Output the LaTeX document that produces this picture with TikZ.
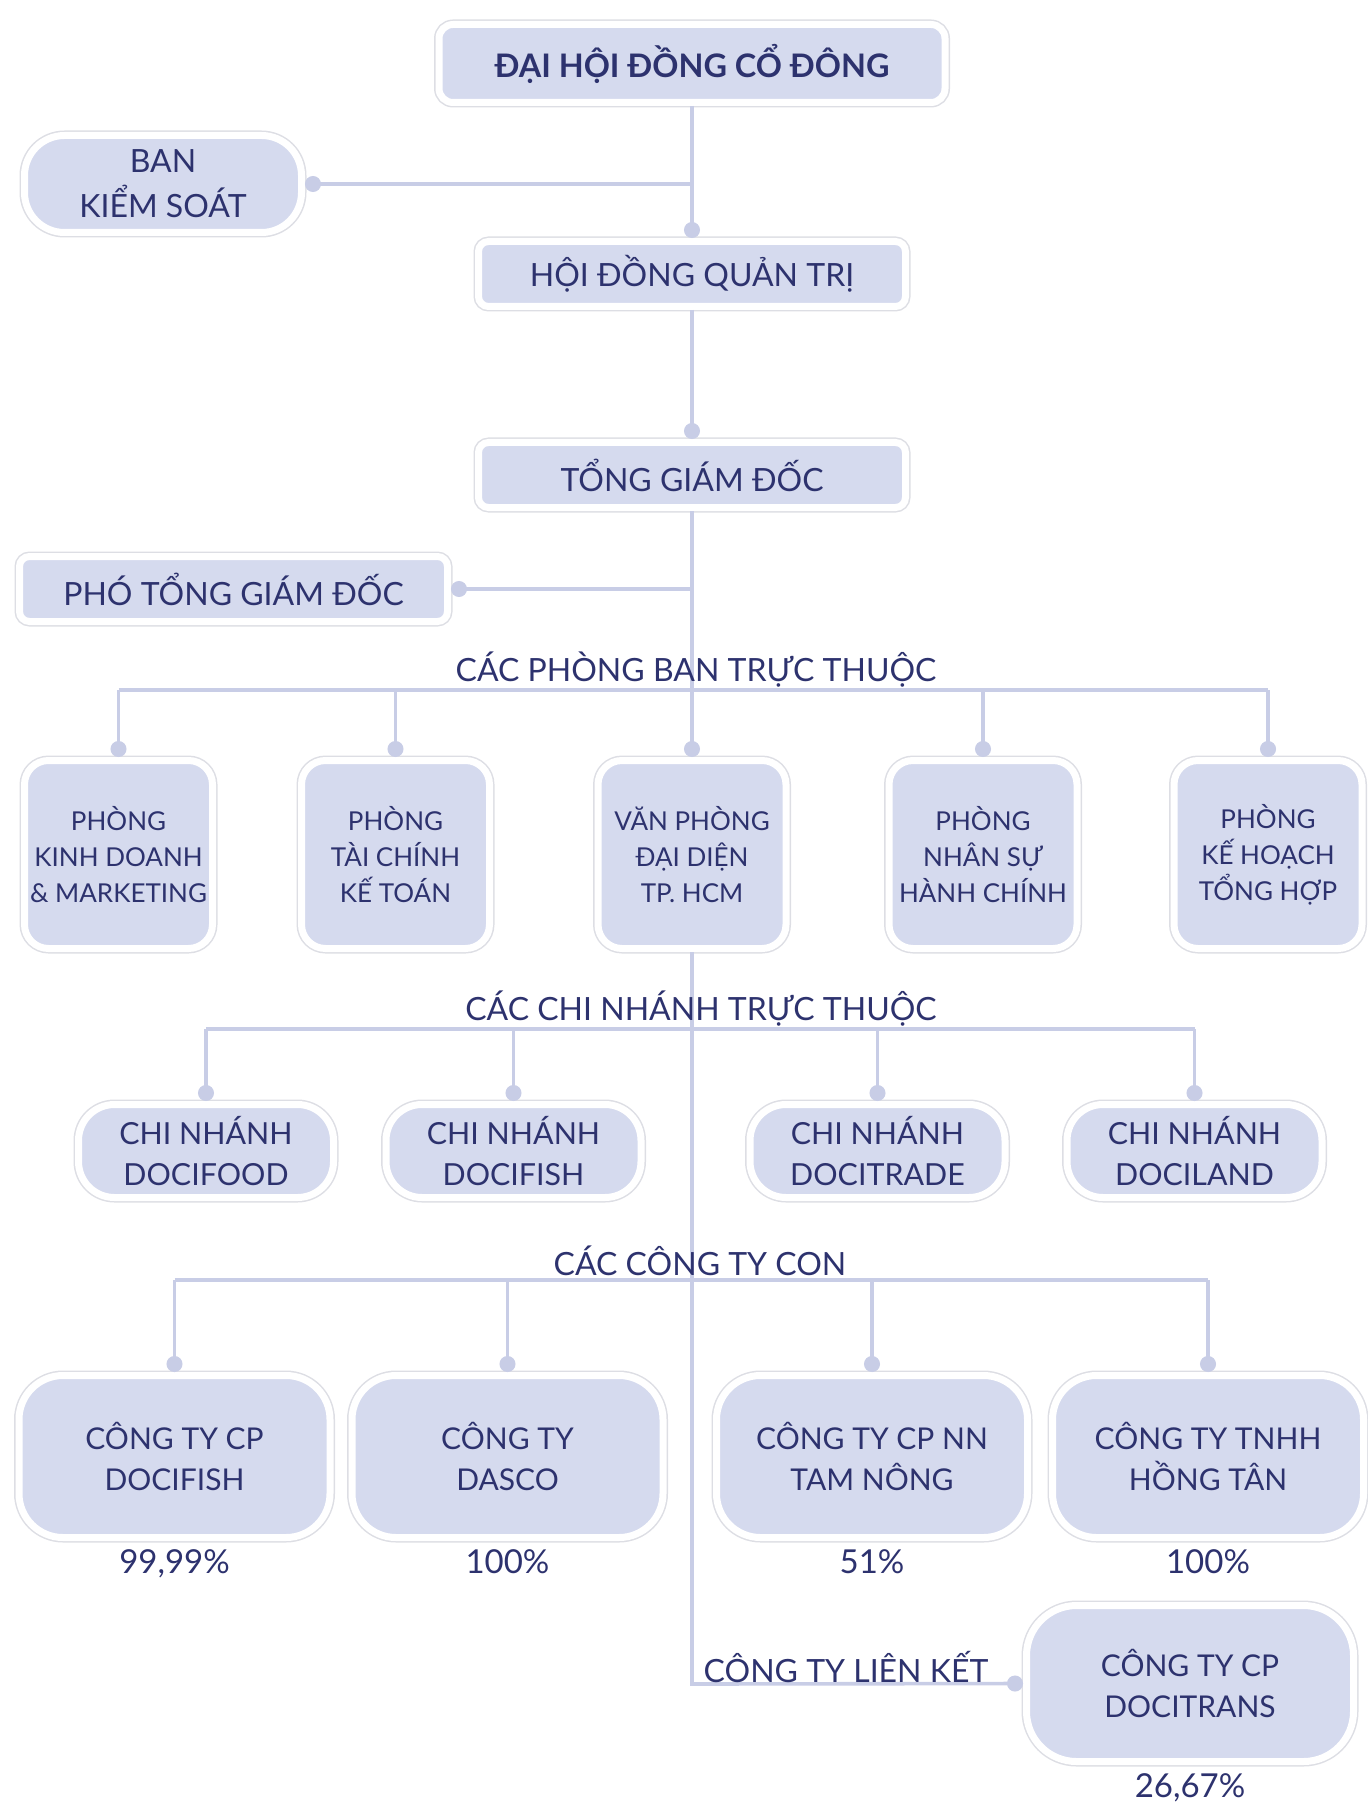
\documentclass[tikz,border=0pt]{standalone}
\usepackage{fontspec}
\setmainfont{Lato}
\usetikzlibrary{arrows.meta, positioning}

\definecolor{boxfill}{HTML}{D5DAEE}
\definecolor{ink}{HTML}{2D326E}
\definecolor{wire}{HTML}{C8CDE6}
\definecolor{ring}{HTML}{DDDEE4}

\begin{document}
\begin{tikzpicture}[
        x=0.5pt, y=-0.5pt,
        box/.style={rectangle, draw=white, line width=3.5pt, fill=boxfill, text=ink, align=center, inner sep=2pt, preaction={draw=ring, line width=5pt}},
        top/.style={box, rounded corners=7pt, minimum width=253pt, minimum height=39pt, font=\fontsize{16.2}{19}\selectfont\bfseries},
        wide/.style={box, rounded corners=5pt, minimum width=213.5pt, minimum height=32.5pt, font=\fontsize{16}{19}\selectfont},
        control/.style={box, rounded corners=20pt, minimum width=138.5pt, minimum height=48.5pt, font=\fontsize{16}{22.5}\selectfont},
        dept/.style={box, rounded corners=12pt, minimum width=94pt, minimum height=94pt, font=\fontsize{13}{18}\selectfont},
        branch/.style={box, rounded corners=18pt, minimum width=127.5pt, minimum height=46.5pt, font=\fontsize{15.2}{20.7}\selectfont},
        firm/.style={box, rounded corners=22pt, minimum width=155.5pt, minimum height=81pt, font=\fontsize{15}{20.7}\selectfont},
        heading/.style={text=ink, inner sep=1pt, font=\fontsize{16}{19}\selectfont},
        share/.style={text=ink, inner sep=1pt, font=\fontsize{16.5}{19}\selectfont},
        link/.style={draw=wire, line width=1.8pt},
        dot/.style={link, -{Circle[length=8pt]}}
    ]
    \useasboundingbox (0,0) rectangle (1367,1802);

    % top of the chart
    \node (dhdcd) [top] at (692,63.5) {ĐẠI HỘI ĐỒNG CỔ ĐÔNG};
    \node (hdqt) [wide, below=66pt of dhdcd] {HỘI ĐỒNG QUẢN TRỊ};
    \node (tgd) [wide, below=64.5pt of hdqt] {TỔNG GIÁM ĐỐC};
    \node (bks) [control] at (163,184) {BAN\\KIỂM SOÁT};
    \node (ptgd) [wide, minimum width=214pt] at (233.5,589) {PHÓ TỔNG GIÁM ĐỐC};

    % departments
    \coordinate (buspb) at (692,690);
    \node (pb1) [dept] at (118.5,854.5) {PHÒNG\\KINH DOANH\\\& MARKETING};
    \node (pb2) [dept] at (395.5,854.5) {PHÒNG\\TÀI CHÍNH\\KẾ TOÁN};
    \node (vp) [dept] at (692,854.5) {VĂN PHÒNG\\ĐẠI DIỆN\\TP. HCM};
    \node (pb4) [dept] at (983,854.5) {PHÒNG\\NHÂN SỰ\\HÀNH CHÍNH};
    \node (pb5) [dept] at (1268,854.5) {PHÒNG\\KẾ HOẠCH\\TỔNG HỢP};

    % branches
    \coordinate (buscn) at (692,1029);
    \node (cn1) [branch] at (206,1151) {CHI NHÁNH\\DOCIFOOD};
    \node (cn2) [branch] at (513.5,1151) {CHI NHÁNH\\DOCIFISH};
    \node (cn3) [branch] at (877.5,1151) {CHI NHÁNH\\DOCITRADE};
    \node (cn4) [branch] at (1194.5,1151) {CHI NHÁNH\\DOCILAND};

    % subsidiaries
    \coordinate (busct) at (692,1280);
    \node (ct1) [firm] at (174.5,1456.5) {CÔNG TY CP\\DOCIFISH};
    \node (ct2) [firm] at (507.5,1456.5) {CÔNG TY\\DASCO};
    \node (ct3) [firm] at (872,1456.5) {CÔNG TY CP NN\\TAM NÔNG};
    \node (ct4) [firm] at (1208,1456.5) {CÔNG TY TNHH\\HỒNG TÂN};
    \node (pc1) [share, below=3pt of ct1] {99,99\%};
    \node (pc2) [share, below=3pt of ct2] {100\%};
    \node (pc3) [share, below=3pt of ct3] {51\%};
    \node (pc4) [share, below=3pt of ct4] {100\%};

    % associate
    \coordinate (elbow) at (692,1684);
    \node (docitrans) [firm, minimum width=163.5pt, minimum height=78pt, rounded corners=25pt] at (1190,1683.5) {CÔNG TY CP\\DOCITRANS};
    \node (pc5) [share, below=3pt of docitrans] {26,67\%};

    \draw [dot] (dhdcd.south) -- (hdqt.north);
    \draw [dot] (dhdcd.south |- bks.east) -- (bks.east);
    \draw [dot] (hdqt.south) -- (tgd.north);
    \draw [dot] (tgd.south |- ptgd.east) -- (ptgd.east);
    \draw [link] (tgd.south) -- (buspb);

    \draw [link] (pb1.north |- buspb) -- (pb5.north |- buspb);
    \foreach \n in {pb1,pb2,vp,pb4,pb5}
        \draw [dot] (\n.north |- buspb) -- (\n.north);

    \draw [dot] (vp.south) -- (elbow) -- (docitrans.west);

    \draw [link] (cn1.north |- buscn) -- (cn4.north |- buscn);
    \foreach \n in {cn1,cn2,cn3,cn4}
        \draw [dot] (\n.north |- buscn) -- (\n.north);

    \draw [link] (ct1.north |- busct) -- (ct4.north |- busct);
    \foreach \n in {ct1,ct2,ct3,ct4}
        \draw [dot] (\n.north |- busct) -- (\n.north);

    % labels over the lines
    \node (hpb) [heading] at (696,670) {CÁC PHÒNG BAN TRỰC THUỘC};
    \node (hcn) [heading] at (701,1009) {CÁC CHI NHÁNH TRỰC THUỘC};
    \node (hct) [heading] at (700,1261) {CÁC CÔNG TY CON};
    \node (hlk) [heading] at (846,1667) {CÔNG TY LIÊN KẾT};

\end{tikzpicture}
\end{document}
